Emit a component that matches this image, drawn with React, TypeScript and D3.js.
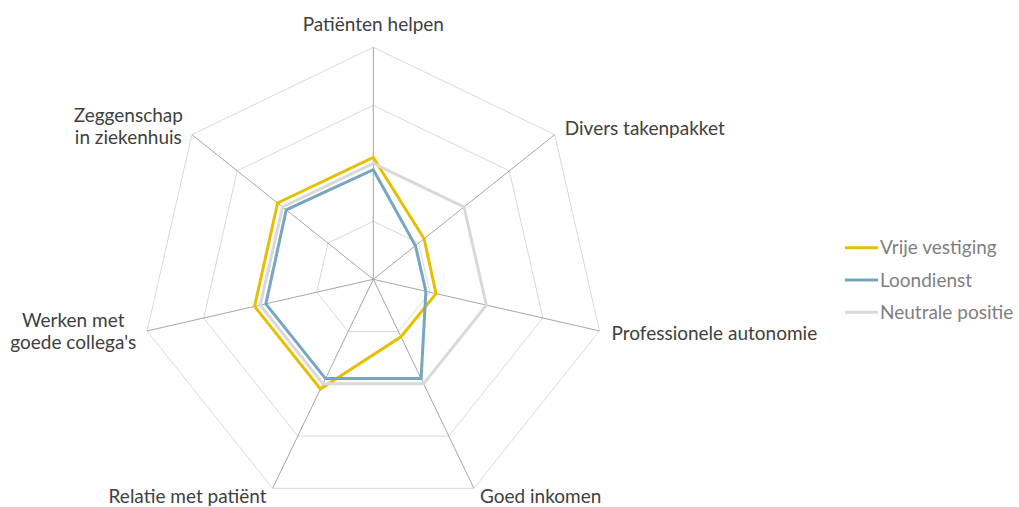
import React, { useRef, useEffect } from "react";
import * as d3 from "d3";

const axisLabels = [
  ["Patiënten helpen"],
  ["Divers takenpakket"],
  ["Professionele autonomie"],
  ["Goed inkomen"],
  ["Relatie met patiënt"],
  ["Werken met", "goede collega's"],
  ["Zeggenschap", "in ziekenhuis"],
];
const vrijeVestiging = [2.1, 1.12, 1.11, 1.1, 2.1, 2.1, 2.11];
const loondienst = [1.89, 0.93, 0.93, 1.9, 1.9, 1.9, 1.92];
const neutralePositie = [2, 2, 2, 2, 2, 2, 2];
const ringLevels = [1, 2, 3, 4];
const seriesNames = ["Vrije vestiging", "Loondienst", "Neutrale positie"];
const seriesColors = ["#e6c000", "#78a5c0", "#d9d9d9"];

const width = 1019;
const height = 507;
const cx = 373.3;
const cy = 279.3;
const radius = 232;
const fontSize = 19;

const App = () => {
  const svgRef = useRef(null);

  useEffect(() => {
    const svg = d3.select(svgRef.current);
    svg.selectAll("*").remove();

    const n = axisLabels.length;
    const angle = (i) => (i * 2 * Math.PI) / n;
    const r = d3.scaleLinear().domain([0, 4]).range([0, radius]);

    const g = svg.append("g").attr("transform", `translate(${cx}, ${cy})`);

    // rings
    const ringLine = d3.lineRadial().curve(d3.curveLinearClosed);
    g.append("g")
      .selectAll("path")
      .data(ringLevels)
      .enter()
      .append("path")
      .attr("d", (lvl) => ringLine(d3.range(n).map((i) => [angle(i), r(lvl)])))
      .attr("fill", "none")
      .attr("stroke", "#d9d9d9")
      .attr("stroke-width", 1);

    // spokes
    g.append("g")
      .selectAll("line")
      .data(d3.range(n))
      .enter()
      .append("line")
      .attr("x1", 0)
      .attr("y1", 0)
      .attr("x2", (i) => Math.sin(angle(i)) * r(4))
      .attr("y2", (i) => -Math.cos(angle(i)) * r(4))
      .attr("stroke", "#a6a6a6")
      .attr("stroke-width", 1);

    // series
    const series = [vrijeVestiging, loondienst, neutralePositie];
    const radarLine = d3.lineRadial()
      .angle((d, i) => angle(i))
      .radius((d) => r(d))
      .curve(d3.curveLinearClosed);
    g.append("g")
      .selectAll("path")
      .data(series)
      .enter()
      .append("path")
      .attr("d", (d) => radarLine(d))
      .attr("fill", "none")
      .attr("stroke", (d, i) => seriesColors[i])
      .attr("stroke-width", 3)
      .attr("stroke-linejoin", "miter");

    // axis labels
    const labels = svg.append("g")
      .attr("font-family", "Lato, 'Noto Sans', sans-serif")
      .attr("font-size", fontSize)
      .attr("fill", "#404040");
    axisLabels.forEach((lines, i) => {
      const a = angle(i);
      const tx = cx + Math.sin(a) * r(4);
      const ty = cy - Math.cos(a) * r(4);
      const s = Math.sin(a);
      const t = labels.append("text").attr("text-anchor", "middle");
      lines.forEach((ln, k) => {
        t.append("tspan").attr("x", 0).attr("y", k * 22).text(ln);
      });
      const bb = t.node().getBBox();
      let x, y;
      if (Math.abs(s) < 0.01) {
        x = tx;
        y = ty - 16;
      } else if (s > 0) {
        const gap = a > 2 ? 6 : a > 1.5 ? 12 : 10;
        x = tx + gap + bb.width / 2;
        y = a > 2 ? ty + 15 : a > 1.5 ? ty + 9 : ty + 0.5;
      } else {
        const gap = a < 4 ? 6 : a < 5 ? 11 : 9;
        x = tx - gap - bb.width / 2;
        y = a < 4 ? ty + 15 : a < 5 ? ty - 3.5 : ty - 13;
      }
      t.attr("transform", `translate(${x}, ${y})`);
    });

    // legend
    const legend = svg.append("g")
      .attr("font-family", "Lato, 'Noto Sans', sans-serif")
      .attr("font-size", fontSize)
      .attr("fill", "#7f7f7f");
    const item = legend.selectAll("g")
      .data(seriesNames)
      .enter()
      .append("g")
      .attr("transform", (d, i) => `translate(845, ${247.7 + i * 32.3})`);
    item.append("line")
      .attr("x1", 0)
      .attr("x2", 33)
      .attr("y1", 0)
      .attr("y2", 0)
      .attr("stroke", (d, i) => seriesColors[i])
      .attr("stroke-width", 3);
    item.append("text")
      .attr("x", 35)
      .attr("y", 6.5)
      .text((d) => d);
  }, []);

  return (
    <svg
      ref={svgRef}
      width={width}
      height={height}
      style={{ position: "absolute", left: 0, top: 0, background: "#fff" }}
    ></svg>
  );
};

export default App;
